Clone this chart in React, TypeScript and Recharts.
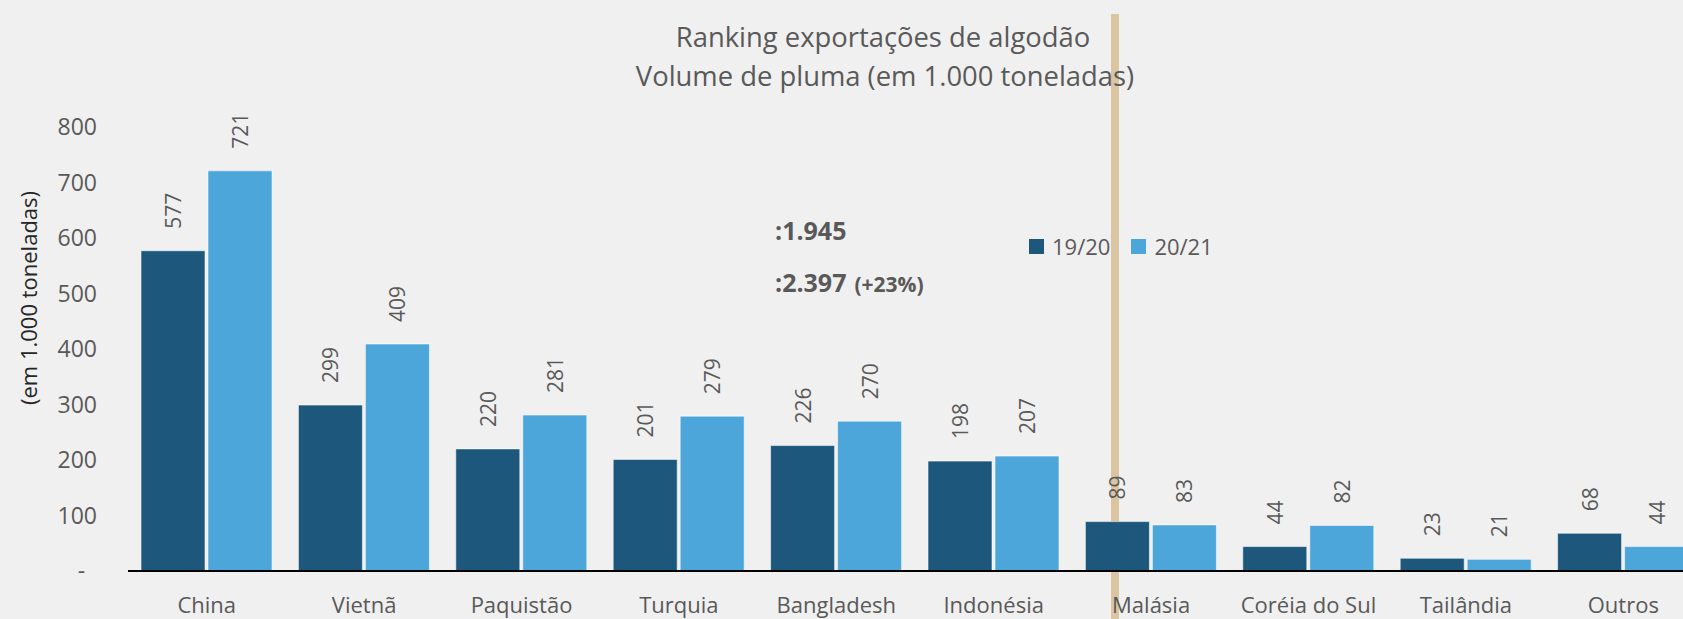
import { BarChart, Bar, XAxis, YAxis, Legend, LabelList } from 'recharts';

const categories = ['China', 'Vietnã', 'Paquistão', 'Turquia', 'Bangladesh', 'Indonésia', 'Malásia', 'Coréia do Sul', 'Tailândia', 'Outros'];
const safra1920 = [577, 299, 220, 201, 226, 198, 89, 44, 23, 68];
const safra2021 = [721, 409, 281, 279, 270, 207, 83, 82, 21, 44];
const yTicks = [0, 100, 200, 300, 400, 500, 600, 700, 800];

const titleLines = ['Ranking exportações de algodão', 'Volume de pluma (em 1.000 toneladas)'];
const total1920 = ':1.945';
const total2021 = ':2.397';
const variacao = '(+23%)';

const FONT = '"Open Sans", "Noto Sans", sans-serif';
const GREY = '#595959';
const DARK = '#1d587c';
const LIGHT = '#4da6da';

const data = categories.map((pais, i) => ({ pais, s1920: safra1920[i], s2021: safra2021[i] }));

// rotulo vertical acima da barra
const ValueLabel = (props: any) => {
  const { x, y, width, value } = props;
  const cx = Number(x) + Number(width) / 2;
  const by = Number(y) - 22;
  return (
    <text
      x={cx}
      y={by}
      transform={`rotate(-90 ${cx} ${by})`}
      textAnchor="start"
      dominantBaseline="central"
      fontFamily={FONT}
      fontSize={21}
      fill={GREY}
    >
      {value}
    </text>
  );
};

const renderLegend = (props: any) => {
  const { payload = [] } = props;
  return (
    <div style={{ display: 'flex', alignItems: 'center', fontFamily: FONT, fontSize: 22, color: GREY, whiteSpace: 'nowrap' }}>
      {payload.map((p: any) => (
        <span key={p.value} style={{ display: 'flex', alignItems: 'center', marginRight: 21 }}>
          <span style={{ width: 15, height: 15, background: p.color, marginRight: 8, display: 'inline-block' }} />
          {p.value}
        </span>
      ))}
    </div>
  );
};

export default function App() {
  return (
    <div
      style={{
        position: 'absolute',
        left: 0,
        top: 0,
        width: 1683,
        height: 619,
        overflow: 'hidden',
        background: '#f0f0f0',
        fontFamily: FONT,
      }}
    >
      <svg width={1683} height={619} style={{ position: 'absolute', left: 0, top: 0 }}>
        <rect x={1111} y={14} width={8} height={605} fill="#dbc4a0" />
        <text x={883} y={47} textAnchor="middle" fontFamily={FONT} fontSize={27.4} fill={GREY}>
          {titleLines[0]}
        </text>
        <text x={885} y={86} textAnchor="middle" fontFamily={FONT} fontSize={27.4} fill={GREY}>
          {titleLines[1]}
        </text>
        <text
          x={28}
          y={298}
          transform="rotate(-90 28 298)"
          textAnchor="middle"
          dominantBaseline="central"
          fontFamily={FONT}
          fontSize={22}
          fill="#262626"
        >
          (em 1.000 toneladas)
        </text>
        <text x={775} y={240} fontFamily={FONT} fontSize={25} fontWeight={700} fill={GREY}>
          {total1920}
        </text>
        <text x={775} y={292} fontFamily={FONT} fontSize={25} fontWeight={700} fill={GREY}>
          {total2021}
          <tspan dx={8} fontSize={21}>{variacao}</tspan>
        </text>
      </svg>

      <div style={{ position: 'absolute', left: 0, top: 0 }}>
        <BarChart
          width={1702}
          height={619}
          data={data}
          margin={{ top: 127, right: 0, bottom: 0, left: 0 }}
          barCategoryGap={13}
          barGap={3}
        >
          <XAxis
            dataKey="pais"
            interval={0}
            height={48}
            tickLine={false}
            tickSize={0}
            tickMargin={26}
            axisLine={{ stroke: '#000', strokeWidth: 2 }}
            tick={{ fontFamily: FONT, fontSize: 22, fill: GREY }}
          />
          <YAxis
            width={128}
            domain={[0, 800]}
            ticks={yTicks}
            interval={0}
            axisLine={false}
            tickLine={false}
            tickSize={0}
            tickMargin={31}
            tickFormatter={(v: number) => (v === 0 ? '-\u00a0\u00a0' : String(v))}
            tick={{ fontFamily: FONT, fontSize: 23, fill: GREY }}
          />
          <Legend
            layout="horizontal"
            verticalAlign="middle"
            align="center"
            content={renderLegend}
            wrapperStyle={{ left: 1029, top: 231, width: 'auto' }}
          />
          <Bar dataKey="s1920" name="19/20" fill={DARK} stroke="rgba(255,255,255,0.55)" strokeWidth={1} isAnimationActive={false}>
            <LabelList dataKey="s1920" content={ValueLabel} />
          </Bar>
          <Bar dataKey="s2021" name="20/21" fill={LIGHT} stroke="rgba(255,255,255,0.55)" strokeWidth={1} isAnimationActive={false}>
            <LabelList dataKey="s2021" content={ValueLabel} />
          </Bar>
        </BarChart>
      </div>
    </div>
  );
}
